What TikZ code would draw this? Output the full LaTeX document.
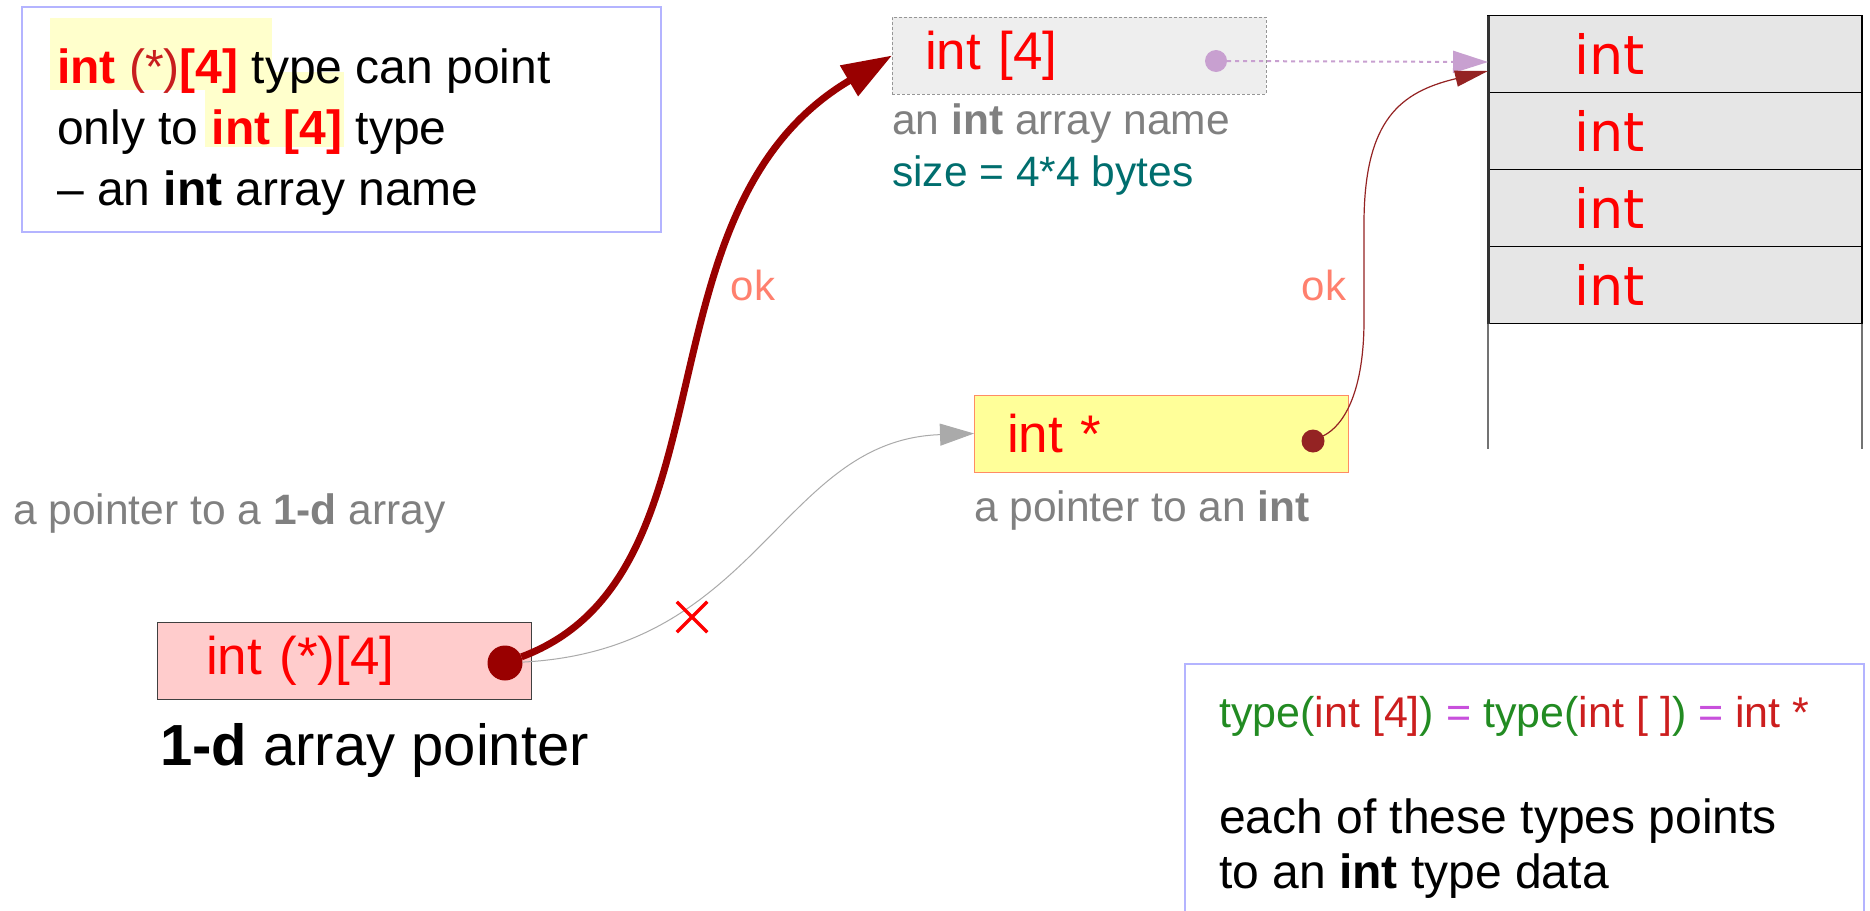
\documentclass[tikz,border=0pt]{standalone}
\usepackage{fontspec}
\setmainfont{Liberation Sans}
\newfontfamily\cellfont{DejaVu Sans}
\usepackage{tikz}
\usetikzlibrary{arrows.meta, positioning, shapes.misc}
\definecolor{typered}{RGB}{255, 0, 0}
\definecolor{starred}{RGB}{200, 30, 30}
\definecolor{hilite}{RGB}{255, 255, 204}
\definecolor{noteline}{RGB}{180, 180, 255}
\definecolor{namebg}{RGB}{238, 238, 238}
\definecolor{nameline}{RGB}{150, 150, 150}
\definecolor{cellbg}{RGB}{230, 230, 230}
\definecolor{ptrbg}{RGB}{255, 255, 153}
\definecolor{ptrline}{RGB}{255, 140, 100}
\definecolor{pptrbg}{RGB}{255, 204, 204}
\definecolor{arrowred}{RGB}{153, 0, 0}
\definecolor{ptrdot}{RGB}{148, 35, 35}
\definecolor{dotlilac}{RGB}{200, 160, 208}
\definecolor{labelgray}{RGB}{128, 128, 128}
\definecolor{sizeteal}{RGB}{0, 110, 110}
\definecolor{okpink}{RGB}{255, 128, 110}
\definecolor{eqgreen}{RGB}{34, 139, 34}
\definecolor{eqred}{RGB}{204, 30, 30}
\definecolor{eqpink}{RGB}{200, 80, 220}
\definecolor{curvegray}{RGB}{170, 170, 170}

\begin{document}
\begin{tikzpicture}[x=1pt, y=-1pt,
    notebox/.style={rectangle, draw=noteline, line width=1.5pt, anchor=north west, inner sep=0pt},
    notetext/.style={anchor=north west, inner sep=0pt, align=left, font=\fontsize{48}{61}\selectfont},
    typebox/.style={rectangle, anchor=north west, minimum width=374pt, minimum height=77pt, inner xsep=33pt, inner ysep=0pt, text width=308pt, align=left, outer sep=0pt, text=typered, font=\fontsize{53}{64}\selectfont},
    cellbox/.style={rectangle, draw=black, line width=1.5pt, fill=cellbg, minimum width=374pt, minimum height=77pt, inner xsep=86pt, inner ysep=0pt, text width=202pt, align=left, outer sep=0pt, text=typered, font=\cellfont\fontsize{54}{60}\selectfont},
    refdot/.style={circle, inner sep=0pt, outer sep=0pt},
    lbl/.style={text=labelgray, inner sep=0pt, font=\fontsize{42.5}{51}\selectfont},
    oklbl/.style={text=okpink, inner sep=0pt, font=\fontsize{42}{51}\selectfont},
    okarrow/.style={-{Triangle[length=50pt, width=34pt]}, line width=7pt, draw=arrowred},
    noarrow/.style={-{Triangle[length=34pt, width=22pt]}, line width=1pt, draw=curvegray},
    elemarrow/.style={-{Triangle[length=33pt, width=16pt]}, line width=1.2pt, draw=ptrdot},
    namearrow/.style={-{Triangle[length=35pt, width=22pt]}, line width=2pt, draw=dotlilac, dash pattern=on 4pt off 4pt},
    tail/.style={line width=2pt, draw=black!55}
]
    \path[use as bounding box, fill=white] (0,0) rectangle (1870,910);

    % note in the upper left
    \node[notebox, minimum width=639pt, minimum height=225pt] (note) at (21,6) {};
    \fill[hilite] (50,18) rectangle (272,90);
    \fill[hilite] (205,72) rectangle (344,147);
    \node[notetext] (notetxt) at (57,49) {
        \textcolor{typered}{\textbf{int} \textcolor{starred}{(*)}\textbf{[4]}} type can point\\
        only to \textcolor{typered}{\textbf{int [4]}} type\\
        -- an \textbf{int} array name
    };

    % the three boxes
    \node[typebox, fill=namebg, draw=nameline, line width=1pt, dash pattern=on 3pt off 2pt] (arr4) at (892,17) {int [4]};
    \node[typebox, fill=ptrbg, draw=ptrline, line width=1pt] (ptr) at (974,395) {int *};
    \node[typebox, fill=pptrbg, draw=black!75, line width=1pt, inner xsep=49pt, text width=276pt] (pptr) at (157,622) {int (*)[4]};

    \node[lbl, below=40pt of arr4.south west, anchor=base west] (arr4name) {an \textbf{int} array name};
    \node[lbl, text=sizeteal, below=52pt of arr4name.base west, anchor=base west] (arr4size) {size = 4*4 bytes};
    \node[lbl, below=49pt of ptr.south west, anchor=base west] (ptrname) {a pointer to an \textbf{int}};
    \node[inner sep=0pt, font=\fontsize{58}{70}\selectfont, below=66pt of pptr.south west, anchor=base west, xshift=3pt] (pptrname) {\textbf{1-d} array pointer};
    \node[lbl, anchor=base west] (pptrdesc) at (13,524) {a pointer to a \textbf{1-d} array};

    % the int array
    \node[cellbox] (cell1) at (1675,54) {int};
    \foreach \i [remember=\i as \lasti (initially 1)] in {2,3,4}
        \node[cellbox, below=0pt of cell\lasti] (cell\i) {int};
    \draw[line width=3pt, draw=black!80] (cell1.north west) -- (cell4.south west);
    \draw[tail] (cell4.south west) -- ++(0,125);
    \draw[tail] (cell4.south east) -- ++(0,125);
    \coordinate (namein) at ([yshift=-8pt]cell1.west);
    \coordinate (elemin) at ([yshift=-17pt]cell1.west);

    % connectors
    \node[refdot, fill=dotlilac, minimum size=22pt] (d4) at (1216,61) {};
    \node[refdot, fill=arrowred, minimum size=35pt] (dpp) at (505,663) {};
    \node[refdot, fill=ptrdot, minimum size=23pt] (dptr) at (1313,441) {};

    \draw[namearrow] (d4) -- (namein);
    \draw[noarrow] (dpp) .. controls (760,650) and (780,440) .. (ptr.west);
    \draw[okarrow] (dpp) .. controls (740,575) and (630,210) .. (arr4.west);
    \draw[elemarrow] (dptr) .. controls (1345,425) and (1364,390) .. (1364,320) -- (1364,220)
        .. controls (1365,120) and (1400,92) .. (elemin);

    \node[oklbl] (okA) at (753,285) {ok};
    \node[oklbl] (okB) at (1324,285) {ok};
    \node[cross out, draw=typered, line width=3.5pt, minimum size=27pt, inner sep=0pt] (nox) at (692,617) {};

    % note in the lower right
    \node[notebox, minimum width=679pt, minimum height=300pt] (eqbox) at (1184,663) {};
    \node[inner sep=0pt, anchor=base west, font=\fontsize{43}{51}\selectfont] (eqline) at (1219,727) {
        \textcolor{eqgreen}{type(}\textcolor{eqred}{int [4]}\textcolor{eqgreen}{)}
        \textcolor{eqpink}{=}
        \textcolor{eqgreen}{type(}\textcolor{eqred}{int [ ]}\textcolor{eqgreen}{)}
        \textcolor{eqpink}{=}
        \textcolor{eqred}{int *}
    };
    \node[notetext, font=\fontsize{48}{55}\selectfont] (eachline) at (1219,799) {
        each of these types points\\
        to an \textbf{int} type data
    };
\end{tikzpicture}
\end{document}
